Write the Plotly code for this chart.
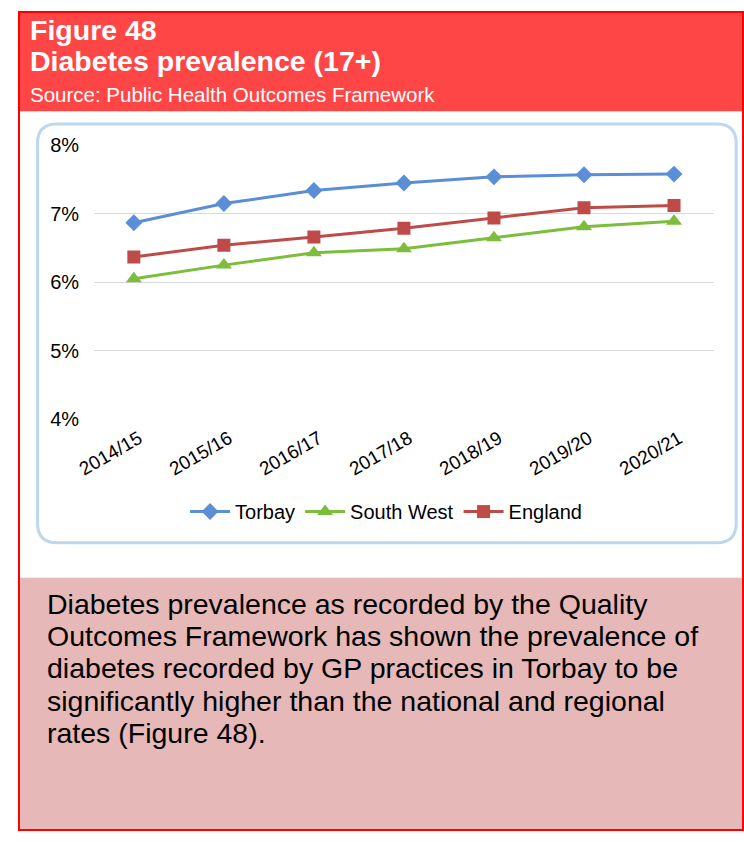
import plotly.graph_objects as go

W, H = 744, 842

years = ["2014/15", "2015/16", "2016/17", "2017/18", "2018/19", "2019/20", "2020/21"]
torbay = [6.87, 7.15, 7.34, 7.45, 7.54, 7.57, 7.58]
south_west = [6.05, 6.25, 6.43, 6.49, 6.65, 6.81, 6.89]
england = [6.37, 6.54, 6.66, 6.79, 6.94, 7.09, 7.12]
y_ticks = [4, 5, 6, 7, 8]
y_tick_labels = ["4%", "5%", "6%", "7%", "8%"]

body_lines = [
    "Diabetes prevalence as recorded by the Quality",
    "Outcomes Framework has shown the prevalence of",
    "diabetes recorded by GP practices in Torbay to be",
    "significantly higher than the national and regional",
    "rates (Figure 48).",
]

FONT = "Liberation Sans, Arial, sans-serif"


def px(x):
    return x / W


def py(y):
    return 1 - y / H


fig = go.Figure()

fig.add_trace(go.Scatter(
    x=years, y=torbay, name="Torbay", mode="lines+markers",
    line=dict(color="#5A8ED6", width=3),
    marker=dict(symbol="diamond", size=13, color="#5A8ED6"),
))
fig.add_trace(go.Scatter(
    x=years, y=south_west, name="South West", mode="lines+markers",
    line=dict(color="#7CBD3C", width=3),
    marker=dict(symbol="triangle-up", size=14, color="#7CBD3C"),
))
fig.add_trace(go.Scatter(
    x=years, y=england, name="England", mode="lines+markers",
    line=dict(color="#BE4B48", width=3),
    marker=dict(symbol="square", size=13, color="#BE4B48"),
))

shapes = []
# header
shapes.append(dict(type="rect", xref="paper", yref="paper",
                   x0=0, x1=1, y0=py(103), y1=1,
                   fillcolor="#FF4646", line=dict(width=0), layer="below"))
# pink text box
shapes.append(dict(type="rect", xref="paper", yref="paper",
                   x0=0, x1=1, y0=0, y1=py(582),
                   fillcolor="#E6B8B7", line=dict(width=0), layer="below"))
# rounded chart box
x0, x1, y0, y1, r = 20, 736, 116, 546, 20


def P(x, y):
    return f"{px(x)},{py(y)}"


path = (f"M {P(x0 + r, y0)} L {P(x1 - r, y0)} Q {P(x1, y0)} {P(x1, y0 + r)} "
        f"L {P(x1, y1 - r)} Q {P(x1, y1)} {P(x1 - r, y1)} "
        f"L {P(x0 + r, y1)} Q {P(x0, y1)} {P(x0, y1 - r)} "
        f"L {P(x0, y0 + r)} Q {P(x0, y0)} {P(x0 + r, y0)} Z")
shapes.append(dict(type="path", xref="paper", yref="paper", path=path,
                   fillcolor="white", line=dict(color="#BDD7EE", width=3), layer="below"))
# outer border
shapes.append(dict(type="rect", xref="paper", yref="paper",
                   x0=px(1), x1=px(743), y0=py(841), y1=py(1),
                   line=dict(color="#FF0000", width=2), layer="above"))

annotations = [
    dict(text="<b>Figure 48</b>", x=px(10), y=py(20), font=dict(size=28.5, color="white", family=FONT)),
    dict(text="<b>Diabetes prevalence (17+)</b>", x=px(10), y=py(51), font=dict(size=28.5, color="white", family=FONT)),
    dict(text="Source: Public Health Outcomes Framework", x=px(10), y=py(86), font=dict(size=20.5, color="white", family=FONT)),
]
for a in annotations:
    a.update(xref="paper", yref="paper", xanchor="left", yanchor="middle", showarrow=False)

for i, line in enumerate(body_lines):
    annotations.append(dict(text=line, xref="paper", yref="paper",
                            x=px(28), y=py(609 + i * 33), xanchor="left", yanchor="middle",
                            showarrow=False, font=dict(size=28.5, color="black", family=FONT)))

fig.update_layout(
    width=W, height=H,
    margin=dict(l=0, r=0, t=0, b=0),
    paper_bgcolor="white", plot_bgcolor="rgba(0,0,0,0)",
    font=dict(family=FONT, color="black"),
    shapes=shapes,
    annotations=annotations,
    showlegend=True,
    legend=dict(orientation="h", x=0.507, xanchor="center", y=py(514), yanchor="middle",
                font=dict(size=20, color="black", family=FONT), bgcolor="rgba(0,0,0,0)",
                itemwidth=40, tracegroupgap=0),
    hovermode=False,
    xaxis=dict(domain=[px(78), px(713)], type="category", tickangle=-30,
               showgrid=False, showline=False, zeroline=False, ticks="",
               tickfont=dict(size=19, color="black"), ticklabelstandoff=4, ticklabelshift=5),
    yaxis=dict(domain=[py(419), py(138)], range=[4, 8], tickvals=y_ticks, ticktext=y_tick_labels,
               showgrid=True, gridcolor="#D9D9D9", gridwidth=1, zeroline=False, showline=False,
               tickfont=dict(size=20, color="black"), ticklabelstandoff=14),
)

fig.write_html(
    "out.html",
    config={"displayModeBar": False},
    post_script="document.body.style.margin='0';document.body.style.padding='0';",
)
